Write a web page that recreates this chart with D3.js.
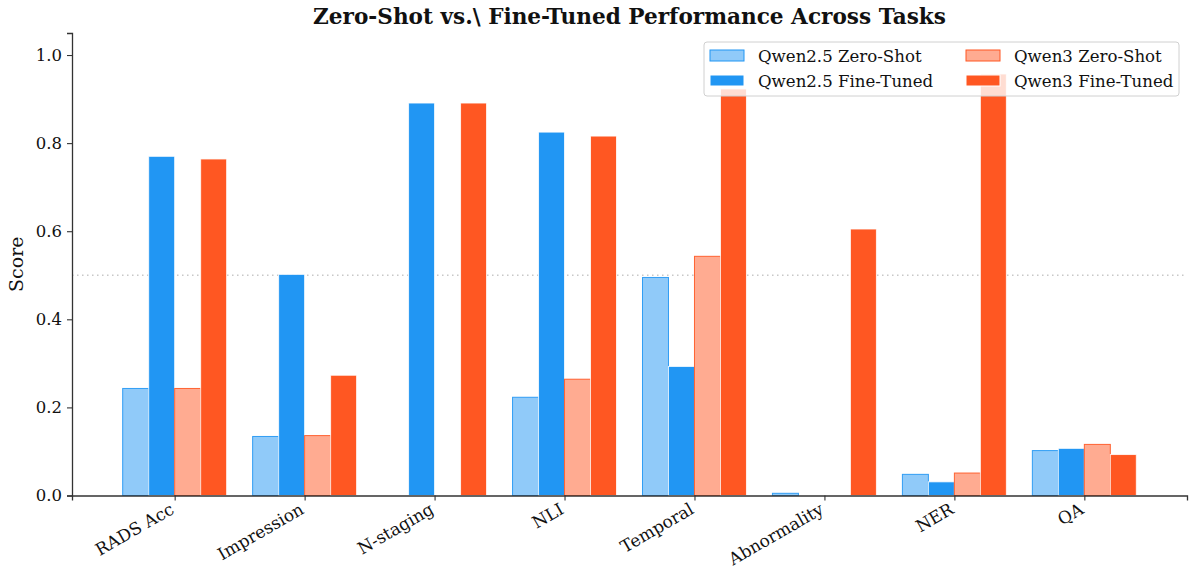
<!DOCTYPE html>
<html>
<head>
<meta charset="utf-8">
<script src="https://cdn.jsdelivr.net/npm/d3@7"></script>
<style>
  body { margin: 0; background: #fff; }
  text { font-family: "DejaVu Serif", serif; fill: #111; }
</style>
</head>
<body>
<div id="chart"></div>
<script>
var tasks = ["RADS Acc", "Impression", "N-staging", "NLI", "Temporal", "Abnormality", "NER", "QA"]
var seriesNames = ["Qwen2.5 Zero-Shot", "Qwen2.5 Fine-Tuned", "Qwen3 Zero-Shot", "Qwen3 Fine-Tuned"]

var qwen25Zero = [0.243, 0.134, 0.0, 0.223, 0.495, 0.005, 0.048, 0.102]
var qwen25Fine = [0.770, 0.502, 0.891, 0.825, 0.293, 0.0, 0.031, 0.107]
var qwen3Zero = [0.243, 0.136, 0.0, 0.264, 0.543, 0.0, 0.051, 0.116]
var qwen3Fine = [0.764, 0.273, 0.891, 0.816, 0.923, 0.605, 0.957, 0.093]

var yTicks = [0.0, 0.2, 0.4, 0.6, 0.8, 1.0]

var allSeries = [qwen25Zero, qwen25Fine, qwen3Zero, qwen3Fine]
var fills = ["#90CAF9", "#2196F3", "#FFAB91", "#FF5722"]
var strokes = ["#2196F3", "#ffffff", "#FF5722", "#ffffff"]

var width = 1192
var height = 572
var barW = 0.2

var svg = d3.select("#chart").append("svg")
  .attr("width", width)
  .attr("height", height)

//x is a continuous scale so the bar offsets work like matplotlib
var x = d3.scaleLinear().domain([-0.79, tasks.length - 1 + 0.79]).range([72, 1187])
var y = d3.scaleLinear().domain([0, 1.05]).range([495.5, 33])

// reference line at 0.5
svg.append("line")
  .attr("x1", x.range()[0]).attr("x2", x.range()[1])
  .attr("y1", y(0.5)).attr("y2", y(0.5))
  .attr("stroke", "#c8c8c8")
  .attr("stroke-width", 1.5)
  .attr("stroke-dasharray", "1.5,3.5")

// bars
allSeries.forEach(function (vals, j) {
  svg.append("g").selectAll("rect")
    .data(vals)
    .enter()
    .append("rect")
    .attr("x", function (d, i) { return x(i + (j - 1.5) * barW - barW / 2) })
    .attr("width", x(barW) - x(0))
    .attr("y", function (d) { return y(d) })
    .attr("height", function (d) { return y(0) - y(d) })
    .attr("fill", fills[j])
    .attr("stroke", strokes[j])
    .attr("stroke-width", 1)
    .attr("stroke-opacity", j % 2 == 0 ? 0.9 : 0.8)
})

// y axis
var yAxis = svg.append("g")
  .attr("transform", "translate(" + x.range()[0] + ",0)")
  .call(d3.axisLeft(y).tickValues(yTicks).tickFormat(d3.format(".1f")).tickSizeOuter(0).tickSize(5))
yAxis.selectAll("text").attr("font-size", 16.5).attr("dx", -2)

// x axis
var xAxis = svg.append("g")
  .attr("transform", "translate(0," + y(0) + ")")
  .call(d3.axisBottom(x).tickValues(d3.range(tasks.length)).tickFormat(function (d) { return tasks[d] }).tickSizeOuter(0).tickSize(5))
xAxis.selectAll("text")
  .attr("font-size", 17)
  .attr("text-anchor", "end")
  .attr("dy", "0.35em")
  .attr("transform", "translate(-3,12) rotate(-30)")
  .attr("y", 0).attr("x", 0)

svg.selectAll(".domain").attr("stroke", "#333").attr("stroke-width", 1.3)
svg.selectAll(".tick line").attr("stroke", "#333").attr("stroke-width", 1.1)
svg.selectAll(".tick text").attr("fill", "#222")

// y label
svg.append("text")
  .attr("transform", "translate(23," + y(0.525) + ") rotate(-90)")
  .attr("text-anchor", "middle")
  .attr("font-size", 19)
  .text("Score")

// title
svg.append("text")
  .attr("x", (x.range()[0] + x.range()[1]) / 2)
  .attr("y", 24)
  .attr("text-anchor", "middle")
  .attr("font-size", 21.6)
  .attr("font-weight", "bold")
  .text("Zero-Shot vs.\\ Fine-Tuned Performance Across Tasks")

// legend
var legend = svg.append("g").attr("transform", "translate(704,42)")
legend.append("rect")
  .attr("width", 475).attr("height", 54)
  .attr("rx", 3)
  .attr("fill", "#fff").attr("fill-opacity", 0.8)
  .attr("stroke", "#d0d0d0").attr("stroke-width", 1)

seriesNames.forEach(function (name, j) {
  var col = Math.floor(j / 2)
  var row = j % 2
  var item = legend.append("g").attr("transform", "translate(" + (6 + col * 256) + "," + (8 + row * 25) + ")")
  item.append("rect")
    .attr("width", 34).attr("height", 11)
    .attr("fill", fills[j])
    .attr("stroke", strokes[j])
    .attr("stroke-width", 1)
  item.append("text")
    .attr("x", 48).attr("y", 12)
    .attr("font-size", 16.6)
    .text(name)
})
</script>
</body>
</html>
